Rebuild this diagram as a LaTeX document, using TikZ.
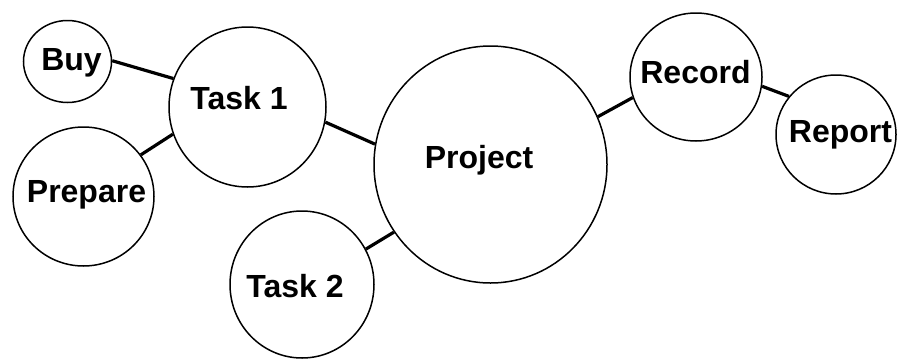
\documentclass[tikz,border=0pt]{standalone}
\usepackage{fontspec}
\setmainfont{Liberation Sans}
\usetikzlibrary{shapes.geometric}
\tikzset{
  bubble/.style={draw=black, line width=1.5pt, ellipse, inner sep=0pt, fill=white},
  word/.style={anchor=base, inner sep=0pt, font=\fontsize{32}{36}\selectfont\bfseries},
  link/.style={draw=black, line width=3.2pt}
}
\begin{document}
\begin{tikzpicture}[x=1pt, y=-1pt]
  \useasboundingbox (0,0) rectangle (899,359);

  % bubbles
  \node[bubble, minimum width=88pt,  minimum height=82pt]  (buy)     at (67.5,61.5)  {};
  \node[bubble, minimum width=157pt, minimum height=160pt] (task1)   at (247.5,107)  {};
  \node[bubble, minimum width=141pt, minimum height=139pt] (prepare) at (83.5,196.5) {};
  \node[bubble, minimum width=233pt, minimum height=237pt] (project) at (490.5,164.5){};
  \node[bubble, minimum width=144pt, minimum height=147pt] (task2)   at (302,284.5)  {};
  \node[bubble, minimum width=132pt, minimum height=128pt] (record)  at (696,77)     {};
  \node[bubble, minimum width=120pt, minimum height=119pt] (report)  at (836,134.5)  {};

  % labels
  \node[word] (buy-t)     at (71.5,70)  {Buy};
  \node[word] (task1-t)   at (239,109)  {Task 1};
  \node[word] (prepare-t) at (86.5,202) {Prepare};
  \node[word] (project-t) at (479,168)  {Project};
  \node[word] (task2-t)   at (295,297)  {Task 2};
  \node[word] (record-t)  at (695.5,83) {Record};
  \node[word] (report-t)  at (840.5,142){Report};

  % connectors
  \draw[link] (buy.1)      -- (task1.159);
  \draw[link] (prepare.36) -- (task1.200);
  \draw[link] (task1.-11)  -- (project.170);
  \draw[link] (task2.29)   -- (project.215);
  \draw[link] (project.24) -- (record.198);
  \draw[link] (record.-8)  -- (report.141);
\end{tikzpicture}
\end{document}
